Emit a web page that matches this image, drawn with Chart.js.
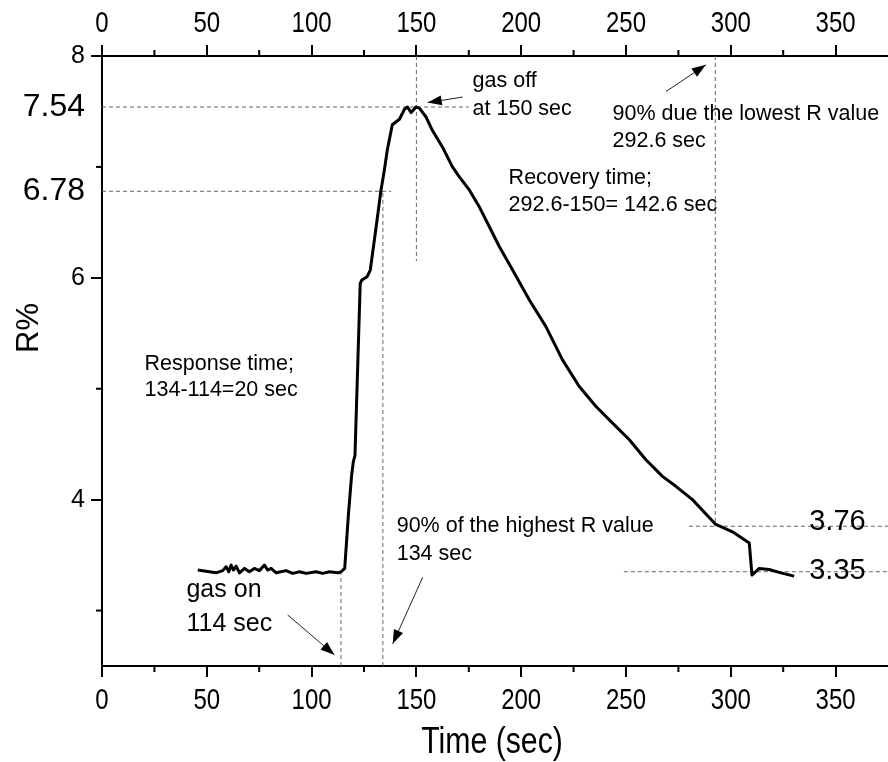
<!DOCTYPE html>
<html>
<head>
<meta charset="utf-8">
<script src="https://cdn.jsdelivr.net/npm/chart.js@4.4.1/dist/chart.umd.min.js"></script>
<style>
  html, body { margin: 0; padding: 0; background: #fff; }
  #wrap { width: 888px; height: 762px; position: relative; }
</style>
</head>
<body>
<div id="wrap"><canvas id="chart"></canvas></div>
<script>
// time (sec) and R%
const timeSec = [
  45.7, 54.4, 57.6, 59.2, 60.5, 61.6, 62.7, 64.0, 65.6, 68.0, 70.3, 72.7, 75.1, 77.5, 79.1, 80.7, 83.1,
  87.8, 91.0, 94.2, 97.4, 102.1, 105.3, 108.5, 112.5, 114.1,
  115.8, 117.5, 119.1, 119.9, 120.7, 123.2, 124.0, 126.5, 128.0, 130.8, 133.1, 134.7, 136.1, 138.5,
  141.9, 144.3, 145.7, 147.5, 149.8, 151.4, 154.6, 157.6, 162.4, 167.2, 170.5, 175.3, 180.0, 184.8,
  189.6, 195.9, 203.9, 211.8, 219.7, 227.7, 235.7, 243.6, 251.6, 259.5, 267.4, 273.8, 281.7, 292.6,
  300.8, 308.8, 310.1, 313.6, 318.3, 323.9, 330.2
];
const rPercent = [
  3.365, 3.34, 3.36, 3.395, 3.35, 3.41, 3.365, 3.40, 3.34, 3.38, 3.35, 3.38, 3.36, 3.41, 3.365, 3.38, 3.34,
  3.36, 3.335, 3.35, 3.335, 3.35, 3.335, 3.35, 3.34, 3.35,
  3.38, 3.85, 4.22, 4.34, 4.40, 5.95, 5.98, 6.01, 6.07, 6.46, 6.79, 6.97, 7.15, 7.38,
  7.43, 7.52, 7.54, 7.49, 7.54, 7.53, 7.45, 7.33, 7.18, 7.00, 6.91, 6.79, 6.64, 6.46,
  6.28, 6.07, 5.80, 5.56, 5.26, 5.02, 4.84, 4.69, 4.54, 4.36, 4.21, 4.12, 4.00, 3.78,
  3.71, 3.61, 3.32, 3.38, 3.37, 3.34, 3.31
];

const xTicks = [0, 50, 100, 150, 200, 250, 300, 350];
const xMinor = [25, 75, 125, 175, 225, 275, 325];
const yTicks = [4, 6, 8];
const yMinor = [3, 5, 7];
const yMarked = [7.54, 6.78];

// dashed guide lines: [x1, y1, x2, y2] in data units
const guides = [
  [0, 7.54, 175, 7.54],
  [0, 6.78, 138, 6.78],
  [150, 8, 150, 6.15],
  [134, 2.5, 134, 6.78],
  [114, 2.5, 114, 3.35],
  [292.6, 8, 292.6, 3.76],
  [280, 3.76, 375, 3.76],
  [249, 3.35, 375, 3.35]
];

// text notes: [text, x, y, size]
const notes = [
  ['gas off', 176.8, 7.72, 21.5],
  ['at 150 sec', 176.8, 7.47, 21.5],
  ['90% due the lowest R value', 243.6, 7.42, 21.5],
  ['292.6 sec', 243.6, 7.18, 21.5],
  ['Recovery time;', 194, 6.85, 21.5],
  ['292.6-150= 142.6 sec', 194, 6.60, 21.5],
  ['Response time;', 20.3, 5.17, 21.5],
  ['134-114=20 sec', 20.3, 4.93, 21.5],
  ['gas on', 40.3, 3.12, 25],
  ['114 sec', 40.3, 2.82, 25],
  ['90% of the highest R value', 140.6, 3.71, 21.5],
  ['134 sec', 140.6, 3.46, 21.5],
  ['3.76', 337.4, 3.73, 29],
  ['3.35', 337.4, 3.28, 29]
];

// arrows: [fromX, fromY, toX, toY]
const arrows = [
  [172.1, 7.63, 155.4, 7.58],
  [269.1, 7.68, 288.1, 7.92],
  [88.6, 2.96, 110.9, 2.60],
  [153, 3.30, 138.7, 2.70]
];

const sans = "'Liberation Sans', Arial, sans-serif";

const points = timeSec.map((t, i) => ({ x: t, y: rPercent[i] }));

const isMarked = c => !!(c && c.tick && yMarked.includes(c.tick.value));

// condensed text, like Arial Narrow
function narrowText(ctx, str, px, py, size, sx) {
  ctx.save();
  ctx.translate(px, py);
  ctx.scale(sx, 1);
  ctx.font = size + 'px ' + sans;
  ctx.textAlign = 'center';
  ctx.textBaseline = 'middle';
  ctx.fillText(str, 0, 0);
  ctx.restore();
}

const extras = {
  id: 'extras',
  beforeDatasetsDraw(chart) {
    const { ctx, scales: { x, y } } = chart;
    ctx.save();
    ctx.strokeStyle = '#666';
    ctx.lineWidth = 1;
    ctx.setLineDash([4, 3]);
    guides.forEach(g => {
      ctx.beginPath();
      ctx.moveTo(x.getPixelForValue(g[0]), y.getPixelForValue(g[1]));
      ctx.lineTo(x.getPixelForValue(g[2]), y.getPixelForValue(g[3]));
      ctx.stroke();
    });
    ctx.restore();
  },
  afterDraw(chart) {
    const { ctx, chartArea: a, scales: { x, y } } = chart;
    ctx.save();
    ctx.strokeStyle = '#000';
    ctx.lineWidth = 2;
    // minor ticks
    xMinor.forEach(v => {
      const px = x.getPixelForValue(v);
      ctx.beginPath();
      ctx.moveTo(px, a.bottom); ctx.lineTo(px, a.bottom + 6);
      ctx.moveTo(px, a.top); ctx.lineTo(px, a.top - 6);
      ctx.stroke();
    });
    yMinor.forEach(v => {
      const py = y.getPixelForValue(v);
      ctx.beginPath();
      ctx.moveTo(a.left, py); ctx.lineTo(a.left - 6, py);
      ctx.stroke();
    });

    // x tick labels, top and bottom, plus axis title
    ctx.fillStyle = '#000';
    xTicks.forEach(v => {
      const px = x.getPixelForValue(v);
      narrowText(ctx, String(v), px, a.bottom + 35, 30, 0.8);
      narrowText(ctx, String(v), px, a.top - 32, 30, 0.8);
    });
    narrowText(ctx, 'Time (sec)', (a.left + a.right) / 2 - 3, a.bottom + 77, 36, 0.84);

    // notes
    ctx.textBaseline = 'alphabetic';
    ctx.textAlign = 'left';
    notes.forEach(n => {
      ctx.font = n[3] + 'px ' + sans;
      ctx.fillText(n[0], x.getPixelForValue(n[1]), y.getPixelForValue(n[2]));
    });

    // arrows
    ctx.lineWidth = 1;
    ctx.strokeStyle = '#222';
    arrows.forEach(ar => {
      const x1 = x.getPixelForValue(ar[0]), y1 = y.getPixelForValue(ar[1]);
      const x2 = x.getPixelForValue(ar[2]), y2 = y.getPixelForValue(ar[3]);
      const ang = Math.atan2(y2 - y1, x2 - x1);
      ctx.beginPath();
      ctx.moveTo(x1, y1); ctx.lineTo(x2, y2);
      ctx.stroke();
      ctx.beginPath();
      ctx.moveTo(x2, y2);
      ctx.lineTo(x2 - 14 * Math.cos(ang) + 5 * Math.sin(ang), y2 - 14 * Math.sin(ang) - 5 * Math.cos(ang));
      ctx.lineTo(x2 - 14 * Math.cos(ang) - 5 * Math.sin(ang), y2 - 14 * Math.sin(ang) + 5 * Math.cos(ang));
      ctx.closePath();
      ctx.fill();
    });

    // y title
    ctx.save();
    ctx.translate(29, (a.top + a.bottom) / 2 - 33);
    ctx.rotate(-Math.PI / 2);
    ctx.textAlign = 'center';
    ctx.textBaseline = 'middle';
    ctx.font = '31px ' + sans;
    ctx.fillText('R%', 0, 0);
    ctx.restore();
    ctx.restore();
  }
};

const xAxis = (pos, h) => ({
  type: 'linear',
  position: pos,
  min: 0,
  max: 375,
  afterBuildTicks: s => { s.ticks = xTicks.map(v => ({ value: v })); },
  afterFit: s => { s.height = h; },
  ticks: { color: 'rgba(0,0,0,0)', padding: 4, maxRotation: 0, autoSkip: false, font: { family: sans, size: 26 } },
  grid: { drawOnChartArea: false, drawTicks: true, tickLength: 11, color: '#000', lineWidth: 2 },
  border: { display: true, color: '#000', width: 2 }
});

new Chart(document.getElementById('chart'), {
  type: 'scatter',
  data: {
    datasets: [{
      data: points,
      showLine: true,
      borderColor: '#000',
      borderWidth: 3,
      pointRadius: 0,
      tension: 0,
      borderJoinStyle: 'round',
      xAxisID: 'x',
      yAxisID: 'y'
    }]
  },
  options: {
    responsive: true,
    maintainAspectRatio: false,
    animation: false,
    layout: { padding: 0 },
    plugins: { legend: { display: false }, tooltip: { enabled: false } },
    scales: {
      x: xAxis('bottom', 96),
      x2: xAxis('top', 56),
      y: {
        type: 'linear',
        position: 'left',
        min: 2.5,
        max: 8,
        afterBuildTicks: s => { s.ticks = yTicks.concat(yMarked).map(v => ({ value: v })); },
        afterFit: s => { s.width = 102; },
        ticks: {
          color: '#000',
          padding: 6,
          callback: v => String(v),
          font: c => ({ family: sans, size: isMarked(c) ? 32 : 25 })
        },
        grid: {
          drawOnChartArea: false,
          drawTicks: true,
          tickLength: 11,
          lineWidth: 2,
          color: c => isMarked(c) ? 'rgba(0,0,0,0)' : '#000'
        },
        border: { display: true, color: '#000', width: 2 }
      }
    }
  },
  plugins: [extras]
});
</script>
</body>
</html>
